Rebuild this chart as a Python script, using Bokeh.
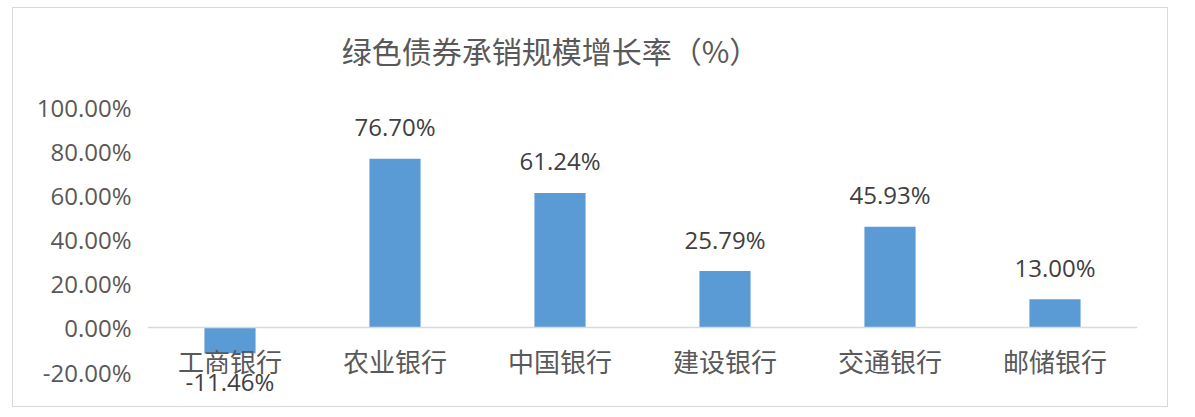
from bokeh.core.properties import value
from bokeh.embed import file_html
from bokeh.models import ColumnDataSource, FactorRange, FixedTicker, Label, PrintfTickFormatter, Range1d
from bokeh.plotting import figure
from bokeh.resources import INLINE

# data
banks = ["工商银行", "农业银行", "中国银行", "建设银行", "交通银行", "邮储银行"]
growth = [-11.46, 76.70, 61.24, 25.79, 45.93, 13.00]
y_ticks = [-20, 0, 20, 40, 60, 80, 100]
title_text = "绿色债券承销规模增长率（%）"

TEXT = "#595959"
LABEL = "#404040"
BAR = "#5B9BD5"
RULE = "#D9D9D9"
CJK = "Noto Sans CJK SC"
NUM = "Open Sans"

source = ColumnDataSource(dict(
    bank=banks,
    growth=growth,
    label=["%.2f%%" % g for g in growth],
    offset=[-32 if g >= 0 else 28 for g in growth],
))

p = figure(
    x_range=FactorRange(*banks, range_padding=0),
    y_range=Range1d(-32, 100),
    width=1156, height=400,
    min_border_left=134, min_border_right=32,
    min_border_top=99, min_border_bottom=10,
    output_backend="svg", toolbar_location=None,
    background_fill_color="white", border_fill_color="white",
)
p.outline_line_color = None
p.grid.visible = False
p.styles = {"border": "1px solid " + RULE, "margin-left": "12px", "margin-top": "7px"}

# title sits well above the plot area, left of centre, as in the original
title = Label(x=536, y=40, x_units="canvas", y_units="canvas", text=title_text,
              text_font=CJK, text_font_size="30px", text_color=TEXT,
              text_align="center", text_baseline="middle")
p.add_layout(title, "above")

p.vbar(x="bank", top="growth", width=0.31, source=source,
       fill_color=BAR, line_color=None)

p.text(x="bank", y="growth", text="label", y_offset="offset", source=source,
       text_font=value(NUM), text_font_size="24px", text_color=LABEL,
       text_align="center", text_baseline="middle", level="overlay")

# category axis sits on the zero line, like the original
p.xaxis.fixed_location = 0
p.xaxis.axis_line_color = RULE
p.xaxis.axis_line_width = 1.5
p.xaxis.major_tick_line_color = None
p.xaxis.minor_tick_line_color = None
p.xaxis.major_label_text_font = CJK
p.xaxis.major_label_text_font_size = "26px"
p.xaxis.major_label_text_color = TEXT
p.xaxis.major_label_standoff = 8

p.yaxis.ticker = FixedTicker(ticks=y_ticks)
p.yaxis.formatter = PrintfTickFormatter(format="%.2f%%")
p.yaxis.axis_line_color = None
p.yaxis.major_tick_line_color = None
p.yaxis.minor_tick_line_color = None
p.yaxis.major_label_text_font = NUM
p.yaxis.major_label_text_font_size = "24px"
p.yaxis.major_label_text_color = TEXT
p.yaxis.major_label_standoff = 10

open("out.html", "w").write(file_html(p, INLINE))
